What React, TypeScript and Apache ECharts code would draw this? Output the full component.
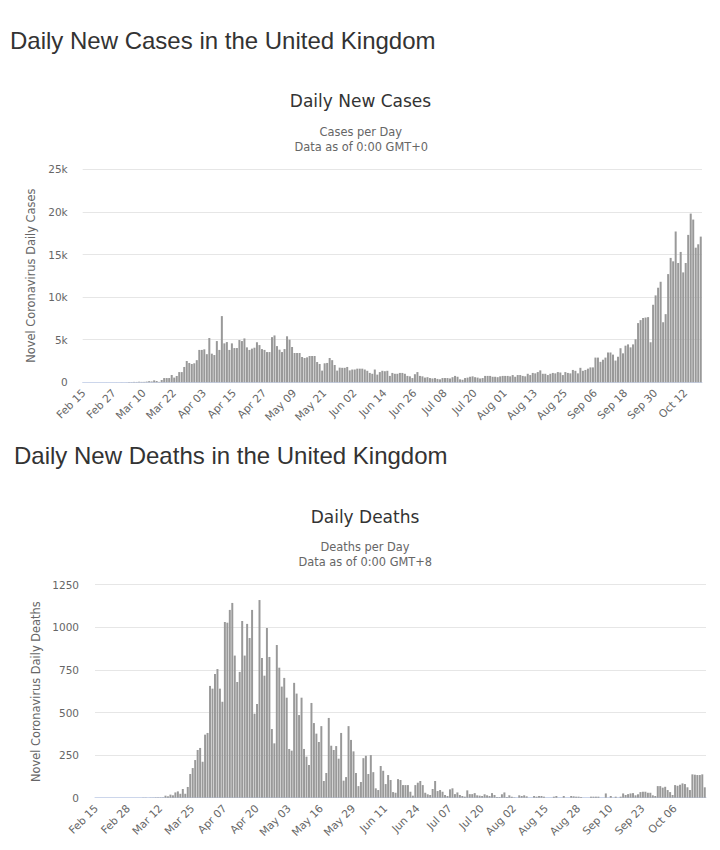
import React, { useEffect, useRef } from "react";
import * as echarts from "echarts";

// ---------- data ----------
const MONTHS = ["Jan", "Feb", "Mar", "Apr", "May", "Jun", "Jul", "Aug", "Sep", "Oct", "Nov", "Dec"];
const START_DAY = Date.UTC(2020, 1, 15); // Feb 15, 2020
const DAY_COUNT = 247; // Feb 15 .. Oct 18

function buildDates(): string[] {
  const out: string[] = [];
  for (let i = 0; i < DAY_COUNT; i++) {
    const d = new Date(START_DAY + i * 86400000);
    out.push(MONTHS[d.getUTCMonth()] + " " + String(d.getUTCDate()).padStart(2, "0"));
  }
  return out;
}
const dates = buildDates();

const dailyCases: number[] = [
  0, 0, 0, 0, 0, 0, 0, 0, 0,
  4, 0, 0, 2, 5, 3,
  12, 4, 11, 34, 30, 48, 43, 67, 48, 52, 83, 134,
  100, 230, 150, 50, 270, 500, 500, 500, 860, 550,
  740, 1200, 1200, 1800, 2500, 2270, 2150, 2230, 2600, 3800,
  3800, 3870, 3300, 5200, 3360, 3200, 4840, 3800, 7770, 4570,
  4720, 3800, 4570, 4020, 4020, 4960, 4840, 5150, 4100, 3800,
  3950, 4060, 4700, 4370, 3900, 3800, 3550, 3550, 5300, 5500,
  4250, 3830, 3550, 3900, 5400, 5000, 4140, 3440, 3440, 3440,
  2970, 2850, 2930, 3090, 3090, 3090, 2380, 2150, 1370, 2230,
  2270, 2850, 2600, 2030, 1370, 1720,
  1700, 1700, 1800, 1400, 1500, 1500, 1600, 1600,
  1600, 1500, 1350, 1100, 1000, 1500, 900, 1200, 1350, 1300,
  1350, 750, 1100, 1000, 1000, 1100, 1100, 1000, 750, 700,
  500, 950, 1200, 750, 700, 550, 600, 500, 450, 500,
  400, 350, 500, 500, 500, 450, 600, 750, 650, 350,
  300, 500, 550, 650, 700, 600, 550, 450, 500, 750,
  750, 750, 650, 650, 600, 700, 750, 750, 750, 700,
  850, 650, 850, 850, 750, 700, 1000, 850, 1100, 1050,
  1200, 1400, 1000, 1000, 850, 1000, 1100, 1050, 1200, 1150,
  850, 1200, 1100, 1050, 1450, 1350, 1050, 1700, 1350, 1450,
  1600, 1750, 1750, 2900, 2900,
  2400, 2650, 2900, 3500, 3500, 3250, 2550, 3000, 4000, 3400,
  4300, 4450, 4100, 4450, 5050, 6950, 7300, 7550, 7600, 7650,
  4700, 9100, 10200, 11100, 11800, 7050, 8000, 12700, 14600, 14200,
  17700, 14000, 15300, 12900, 14000, 17300, 19800, 19100, 15800, 16200, 17100,
];

const dailyDeaths: number[] = [
  0, 0, 0, 0, 0, 0, 0, 0, 0, 0, 0, 0, 0, 0, 0, 0, 0, 0, 0,
  1, 1, 0, 1, 1, 2, 2, 2, 2,
  12, 8, 18, 14, 31, 37, 23, 51, 23, 63,
  139, 174, 221, 280, 292, 211, 370, 380, 656, 640,
  726, 755, 640, 563, 1031, 1027, 1102, 1143, 834, 679,
  738, 1037, 834, 1020, 937, 1102, 493, 550, 1160, 820,
  716, 996, 826, 403, 319, 896, 763, 652, 703, 587,
  286, 276, 674, 611, 485, 587, 286, 241, 192, 556,
  438, 376, 327, 420, 98, 145, 468, 305, 280, 303,
  229, 380, 100, 121, 420, 339, 272, 145, 68,
  92, 232, 246, 139, 250, 150, 55, 45, 186, 158,
  80, 133, 104, 33, 29, 109, 104, 74, 74, 74,
  35, 12, 74, 88, 98, 74, 29, 20, 16, 51,
  98, 39, 45, 35, 16, 10, 49, 55, 21, 31,
  16, 10, 6, 43, 21, 21, 27, 14, 12, 10,
  20, 14, 10, 27, 16, 4, 4, 20, 31, 4,
  14, 6, 2, 0, 14, 10, 14, 8, 0, 0,
  10, 6, 10, 10, 6, 0, 0, 0, 6, 10,
  0, 0, 10, 0, 0, 10, 8, 6, 6, 4,
  0, 0, 0, 6, 6, 6, 6, 0, 0, 25,
  0, 10, 0, 6, 0, 6, 25, 16, 21, 25,
  27, 14, 20, 33, 35, 35, 29, 29, 14, 10,
  68, 68, 59, 64, 45, 33, 16, 74, 70, 76,
  84, 80, 61, 45, 137, 135, 133, 133, 137, 61,
];

const casesTicks = [0, 5000, 10000, 15000, 20000, 25000];
const deathsTicks = [0, 250, 500, 750, 1000, 1250];

const pageHeadings = ["Daily New Cases in the United Kingdom", "Daily New Deaths in the United Kingdom"];
const chartTitles = ["Daily New Cases", "Daily Deaths"];
const chartSubtitles = [
  ["Cases per Day", "Data as of 0:00 GMT+0"],
  ["Deaths per Day", "Data as of 0:00 GMT+8"],
];
const axisNames = ["Novel Coronavirus Daily Cases", "Novel Coronavirus Daily Deaths"];

// ---------- style ----------
const CHART_FONT = '"DejaVu Sans", Verdana, sans-serif';
const HEAD_FONT = '"Liberation Sans", Arial, Helvetica, sans-serif';
const BAR_COLOR = "#999999";

function txt(
  text: string,
  x: number,
  y: number,
  size: number,
  fill: string,
  family: string,
  align: string,
  rotation = 0
) {
  return {
    type: "text",
    x,
    y,
    rotation,
    silent: true,
    style: {
      text,
      fill,
      font: `${size}px ${family}`,
      textAlign: align,
      textVerticalAlign: "middle",
      align,
      verticalAlign: "middle",
    },
  };
}

export default function App() {
  const ref = useRef<HTMLDivElement | null>(null);

  useEffect(() => {
    if (!ref.current) return;
    const chart = echarts.init(ref.current, undefined, { renderer: "svg" });

    const xAxisCommon = (grid: number, interval: number) => ({
      type: "category",
      gridIndex: grid,
      data: dates,
      boundaryGap: true,
      axisLine: { show: true, lineStyle: { color: "#ccd6eb", width: 1 } },
      axisTick: { show: false },
      splitLine: { show: false },
      axisLabel: {
        interval,
        rotate: 45,
        margin: 9,
        color: "#666666",
        fontSize: 10.7,
        fontFamily: CHART_FONT,
      },
    });

    const yAxisCommon = (grid: number, ticks: number[], margin: number, fmt: (v: number) => string) => ({
      type: "value",
      gridIndex: grid,
      min: ticks[0],
      max: ticks[ticks.length - 1],
      interval: ticks[1] - ticks[0],
      axisLine: { show: false },
      axisTick: { show: false },
      splitLine: { show: true, lineStyle: { color: "#e6e6e6", width: 1 } },
      axisLabel: {
        margin,
        color: "#666666",
        fontSize: 10.5,
        fontFamily: CHART_FONT,
        formatter: fmt,
      },
    });

    const option = {
      animation: false,
      backgroundColor: "#ffffff",
      grid: [
        { left: 82.7, top: 169.3, width: 619.3, height: 213 },
        { left: 95, top: 584.7, width: 611, height: 213 },
      ],
      xAxis: [xAxisCommon(0, 11), xAxisCommon(1, 12)],
      yAxis: [
        yAxisCommon(0, casesTicks, 15, (v: number) => (v === 0 ? "0" : v / 1000 + "k")),
        yAxisCommon(1, deathsTicks, 16, (v: number) => String(v)),
      ],
      series: [
        {
          name: "Daily Cases",
          type: "bar",
          xAxisIndex: 0,
          yAxisIndex: 0,
          data: dailyCases,
          barCategoryGap: "20%",
          itemStyle: { color: BAR_COLOR },
        },
        {
          name: "Daily Deaths",
          type: "bar",
          xAxisIndex: 1,
          yAxisIndex: 1,
          data: dailyDeaths,
          barCategoryGap: "20%",
          itemStyle: { color: BAR_COLOR },
        },
      ],
      graphic: [
        txt(pageHeadings[0], 10, 40.7, 24, "#333333", HEAD_FONT, "left"),
        txt(pageHeadings[1], 14, 455.3, 24, "#333333", HEAD_FONT, "left"),
        txt(chartTitles[0], 360.5, 101.3, 17, "#333333", CHART_FONT, "center"),
        txt(chartSubtitles[0][0], 360.8, 131.7, 11.4, "#666666", CHART_FONT, "center"),
        txt(chartSubtitles[0][1], 361.2, 146.7, 11.4, "#666666", CHART_FONT, "center"),
        txt(chartTitles[1], 365, 517.2, 17, "#333333", CHART_FONT, "center"),
        txt(chartSubtitles[1][0], 365, 546.7, 11.4, "#666666", CHART_FONT, "center"),
        txt(chartSubtitles[1][1], 365.3, 561.7, 11.4, "#666666", CHART_FONT, "center"),
        txt(axisNames[0], 31, 275.7, 11.4, "#666666", CHART_FONT, "center", Math.PI / 2),
        txt(axisNames[1], 35.8, 691.7, 11.4, "#666666", CHART_FONT, "center", Math.PI / 2),
      ],
    };

    chart.setOption(option as any);
    return () => {
      chart.dispose();
    };
  }, []);

  return (
    <div
      ref={ref}
      style={{ position: "absolute", left: 0, top: 0, width: 720, height: 850, background: "#fff" }}
    />
  );
}
